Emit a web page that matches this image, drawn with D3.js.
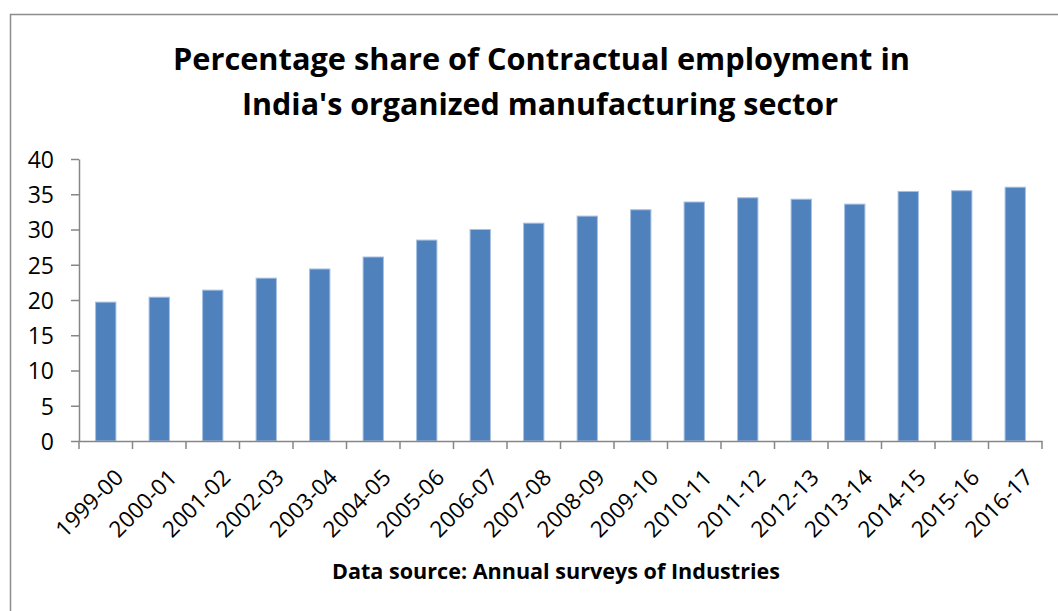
<!DOCTYPE html>
<html>
<head>
<meta charset="utf-8">
<script src="https://cdn.jsdelivr.net/npm/d3@7"></script>
<style>
  html, body { margin: 0; padding: 0; background: #fff; }
  svg { display: block; }
  text { font-family: "Open Sans", "Noto Sans", sans-serif; fill: #000; }
</style>
</head>
<body>
<svg id="chart" width="1058" height="611"></svg>
<script>
// Fiscal years surveyed
const categories = [
  "1999-00", "2000-01", "2001-02", "2002-03", "2003-04", "2004-05",
  "2005-06", "2006-07", "2007-08", "2008-09", "2009-10", "2010-11",
  "2011-12", "2012-13", "2013-14", "2014-15", "2015-16", "2016-17"
];
// Share of contract workers in total employment (%)
const shares = [
  19.7, 20.4, 21.4, 23.1, 24.4, 26.1,
  28.5, 30.0, 30.9, 31.9, 32.8, 33.9,
  34.5, 34.3, 33.6, 35.4, 35.5, 36.0
];
const yTicks = [0, 5, 10, 15, 20, 25, 30, 35, 40];
const titleLines = [
  "Percentage share of Contractual employment in",
  "India's organized manufacturing sector"
];
const sourceNote = "Data source: Annual surveys of Industries";

const svg = d3.select("#chart");
const axisColor = "#868686";

// Chart-area frame
svg.append("rect")
  .attr("x", 10.5).attr("y", 14.5)
  .attr("width", 1100).attr("height", 700)
  .attr("fill", "none").attr("stroke", "#8c8c8c").attr("stroke-width", 1.5);

const plot = { left: 79, right: 1042, top: 159, bottom: 441 };

const x = d3.scaleBand()
  .domain(categories)
  .range([plot.left, plot.right])
  .paddingInner(0.62)
  .paddingOuter(0.31);

const y = d3.scaleLinear()
  .domain([0, 40])
  .range([plot.bottom, plot.top]);

// Bars
svg.append("g")
  .selectAll("rect")
  .data(categories)
  .join("rect")
  .attr("x", d => x(d))
  .attr("y", (d, i) => y(shares[i]))
  .attr("width", x.bandwidth())
  .attr("height", (d, i) => y(0) - y(shares[i]))
  .attr("fill", "#4f81bd")
  .attr("stroke", "#a7c0e2")
  .attr("stroke-width", 1);

// Y axis
const yAxis = svg.append("g")
  .attr("transform", `translate(${plot.left},0)`)
  .call(d3.axisLeft(y).tickValues(yTicks).tickSize(8).tickSizeOuter(0).tickPadding(17));
yAxis.select(".domain").attr("stroke", axisColor).attr("stroke-width", 1.5);
yAxis.selectAll(".tick line").attr("stroke", axisColor).attr("stroke-width", 1.5);
yAxis.selectAll(".tick text")
  .attr("font-size", 23)
  .attr("font-family", "'Open Sans', sans-serif")
  .attr("dy", "0.36em");

// X axis: baseline, boundary ticks, rotated labels
const step = x.step();
const half = x.paddingInner() * step / 2;
const boundaries = categories.map(c => x(c) - half).concat([plot.right]);

const xAxis = svg.append("g")
  .attr("transform", `translate(0,${plot.bottom})`)
  .call(d3.axisBottom(x).tickSize(0).tickSizeOuter(0).tickFormat(""));
xAxis.select(".domain").attr("stroke", axisColor).attr("stroke-width", 1.5);

svg.append("g")
  .selectAll("line")
  .data(boundaries)
  .join("line")
  .attr("x1", d => d).attr("x2", d => d)
  .attr("y1", plot.bottom).attr("y2", plot.bottom + 8)
  .attr("stroke", axisColor).attr("stroke-width", 1.5);

svg.append("g")
  .selectAll("text")
  .data(categories)
  .join("text")
  .attr("transform", d => `translate(${x(d) + x.bandwidth() / 2 + 19},${plot.bottom + 38}) rotate(-45)`)
  .attr("text-anchor", "end")
  .attr("font-size", 22.5)
  .text(d => d);

// Title
svg.append("g")
  .selectAll("text")
  .data(titleLines)
  .join("text")
  .attr("x", (d, i) => [541.5, 540][i])
  .attr("y", (d, i) => 70 + i * 45)
  .attr("text-anchor", "middle")
  .attr("font-size", 31)
  .attr("font-weight", "bold")
  .attr("textLength", (d, i) => [737, 596][i])
  .attr("lengthAdjust", "spacingAndGlyphs")
  .text(d => d);

// Source note
svg.append("text")
  .attr("x", 556)
  .attr("y", 579)
  .attr("text-anchor", "middle")
  .attr("font-size", 22)
  .attr("font-weight", "bold")
  .attr("textLength", 448)
  .attr("lengthAdjust", "spacingAndGlyphs")
  .text(sourceNote);
</script>
</body>
</html>
